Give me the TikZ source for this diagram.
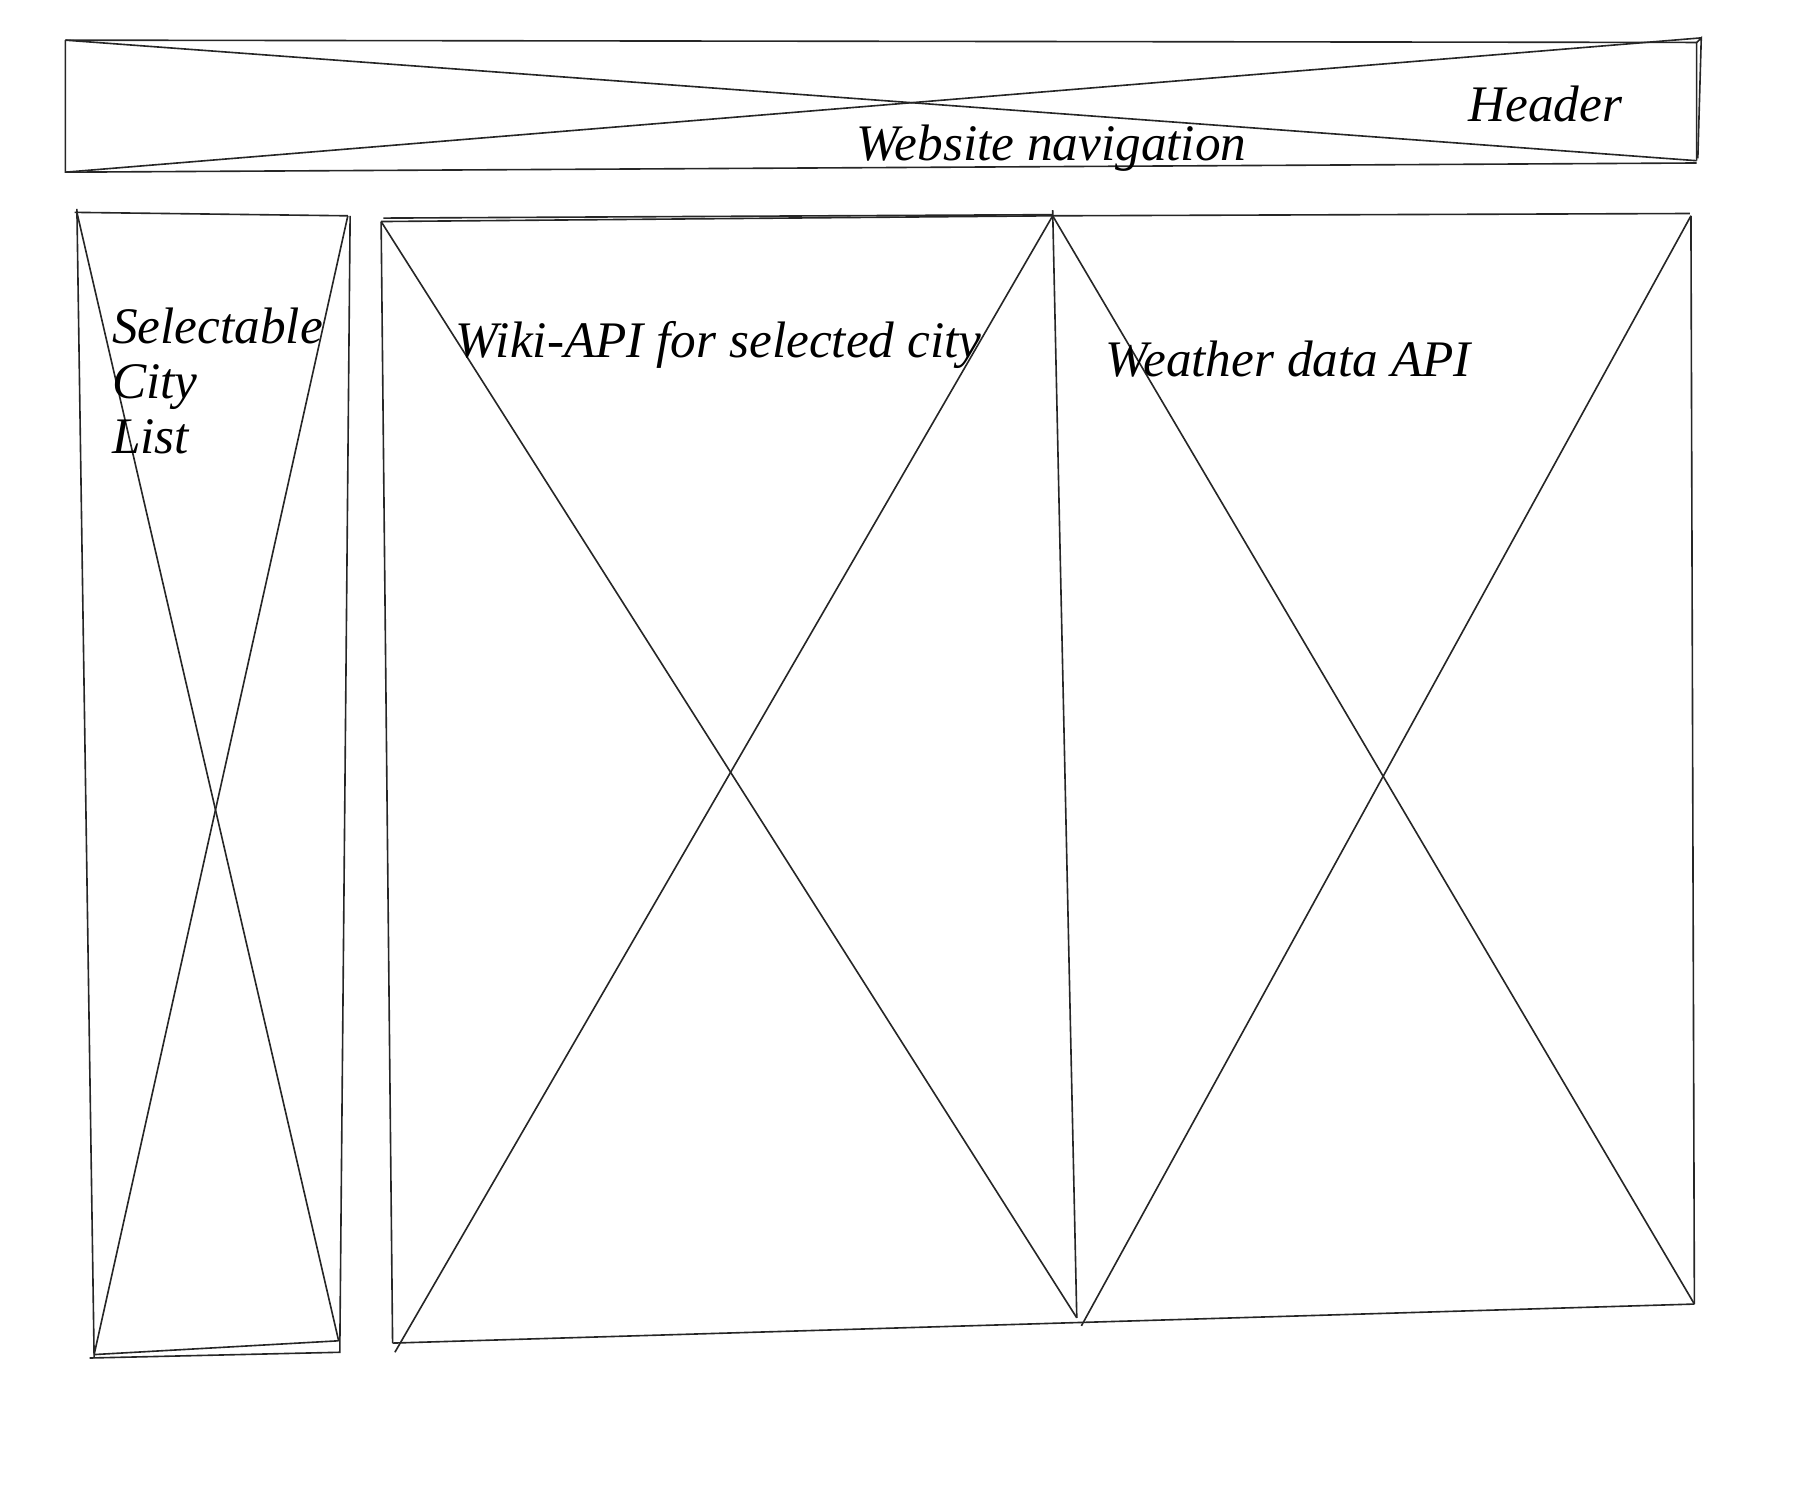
\documentclass[tikz,border=0pt]{standalone}
\usepackage{fontspec}
\setmainfont{Liberation Serif}
\usepackage{tikz}

\begin{document}
\begin{tikzpicture}[
    x=0.01cm, y=-0.01cm,
    sketch/.style={draw=black!85, line width=0.4pt},
    label/.style={font=\fontsize{12.7}{13.6}\selectfont\itshape, inner sep=0pt},
]
\useasboundingbox (0,0) rectangle (1568,1307);

% Header
\coordinate (htl) at (57,35);
\coordinate (htr) at (1482,33);
\coordinate (hbl) at (57,150);
\coordinate (hbr) at (1478,140);
\draw[sketch] (htl) -- (1478,37) -- (hbr);
\draw[sketch] (1478,37) -- (htr) -- (1479,138);
\draw[sketch] (htl) -- (hbl) -- (1478,142);
\draw[sketch] (htl) -- (hbr);
\draw[sketch] (hbl) -- (htr);
\node[label, anchor=base] (header) at (1346,106) {Header};
\node[label, anchor=base] (nav) at (916,140) {Website navigation};

% City list
\coordinate (ctl) at (67,185);
\coordinate (ctr) at (303,188);
\coordinate (cbl) at (82,1180);
\coordinate (cbr) at (295,1168);
\draw[sketch] (65,185) -- (ctr);
\draw[sketch] (67,182) -- (82,1183);
\draw[sketch] (305,188) -- (296,1178) -- (78,1183);
\draw[sketch] (cbl) -- (cbr);
\draw[sketch] (ctl) -- (cbr);
\draw[sketch] (ctr) -- (cbl);
\node[label, anchor=base west, align=left] (cities) at (97,395) {Selectable\\City\\List};

% Wiki panel
\coordinate (wtl) at (332,193);
\coordinate (wtr) at (917,188);
\coordinate (wbl) at (342,1170);
\coordinate (wbr) at (938,1148);
\draw[sketch] (wtl) -- (wtr);
\draw[sketch] (334,190) -- (917,187);
\draw[sketch] (wtl) -- (wbl);
\draw[sketch] (917,183) -- (wbr);
\draw[sketch] (wtl) -- (wbr);
\draw[sketch] (wtr) -- (344,1178);
\node[label, anchor=base] (wiki) at (626,311) {Wiki-API for selected city};

% Weather panel
\coordinate (atr) at (1473,188);
\coordinate (abr) at (1476,1136);
\draw[sketch] (wtr) -- (1472,186);
\draw[sketch] (atr) -- (abr);
\draw[sketch] (wbl) -- (abr);
\draw[sketch] (wtr) -- (abr);
\draw[sketch] (atr) -- (942,1155);
\node[label, anchor=base] (weather) at (1122,328) {Weather data API};
\end{tikzpicture}
\end{document}
